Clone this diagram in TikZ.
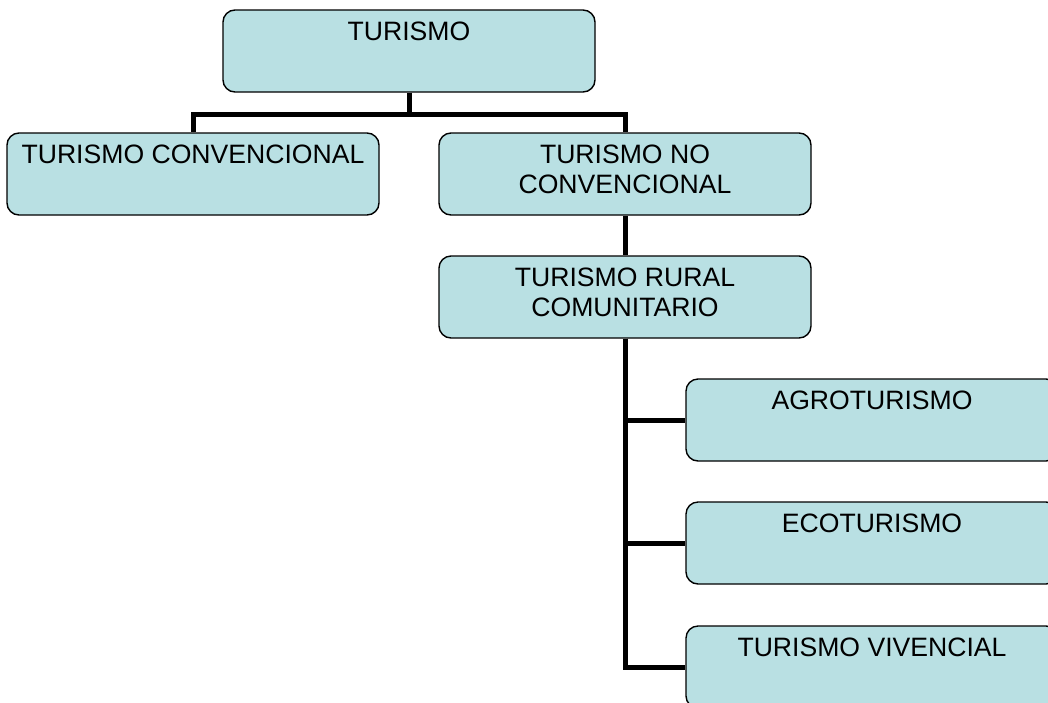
\documentclass[tikz,border=0pt]{standalone}
\usepackage{fontspec}
\setmainfont{Liberation Sans}
\definecolor{boxfill}{RGB}{185,224,227}
\tikzset{
  box/.style={draw=black, line width=1.4pt, fill=boxfill, rounded corners=12pt,
    minimum width=372pt, minimum height=82pt, inner sep=0pt},
  lbl/.style={anchor=north, yshift=-12pt, inner sep=0pt, align=center,
    font=\fontsize{26.6}{30}\selectfont},
  conn/.style={line width=5pt, color=black}
}
\begin{document}
\begin{tikzpicture}[x=1pt,y=-1pt]
    \path[use as bounding box, clip] (0,0) rectangle (1048,702);

    % Top level
    \node[box, label={[lbl]north:TURISMO}] (turismo) at (409,51) {};

    % Second level
    \node[box, label={[lbl]north:TURISMO CONVENCIONAL}] (conv) at (193,174) {};
    \node[box, label={[lbl]north:TURISMO NO\\CONVENCIONAL}] (noconv) at (625,174) {};

    % Third level
    \node[box, label={[lbl]north:TURISMO RURAL\\COMUNITARIO}] (rural) at (625,297) {};

    % Kinds of rural tourism
    \node[box, label={[lbl]north:AGROTURISMO}] (agro) at (872,420) {};
    \node[box, label={[lbl]north:ECOTURISMO}] (eco) at (872,543) {};
    \node[box, label={[lbl]north:TURISMO VIVENCIAL}] (viv) at (872,667) {};

    % Connectors
    \draw[conn] (turismo.south) -- ++(0,22) -| (conv.north);
    \draw[conn] (turismo.south) -- ++(0,22) -| (noconv.north);
    \draw[conn] (noconv.south) -- (rural.north);
    \draw[conn] (rural.south) |- (agro.west);
    \draw[conn] (rural.south) |- (eco.west);
    \draw[conn] (rural.south) |- (viv.west);
\end{tikzpicture}
\end{document}
